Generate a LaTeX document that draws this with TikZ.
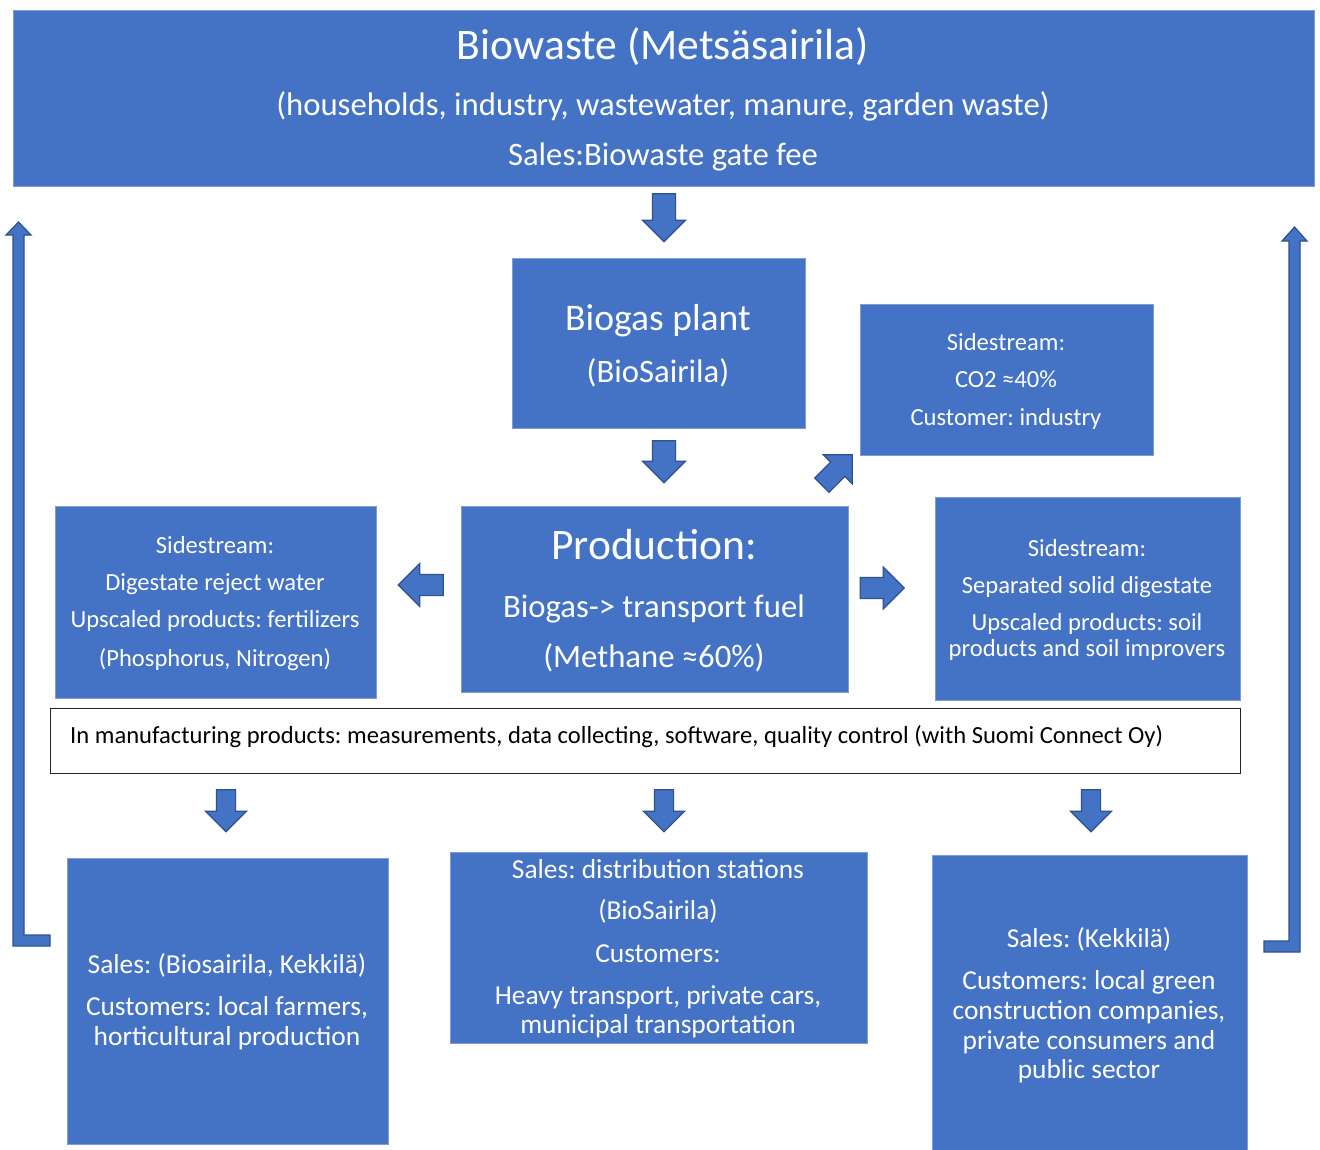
\documentclass[tikz,border=0pt]{standalone}
\usepackage{fontspec}
\setmainfont{Carlito}
\frenchspacing
\usetikzlibrary{shapes.arrows}
\definecolor{obl}{HTML}{4472C4}
\definecolor{odk}{HTML}{2F528F}
\definecolor{oed}{HTML}{7F9CD6}
\tikzset{
  box/.style={rectangle, fill=obl, draw=oed, line width=0.8pt, inner sep=0pt, anchor=north west},
  wbox/.style={rectangle, fill=white, draw=black!85, line width=1.3pt, inner sep=0pt, anchor=north west},
  txt/.style={text=white, anchor=base, inner sep=0pt},
  btxt/.style={text=black, anchor=base west, inner sep=0pt},
  barrow/.style={single arrow, fill=obl, draw=odk, line width=1.2pt, inner xsep=0pt, single arrow head indent=0pt},
  retarrow/.style={fill=obl, draw=odk, line width=1.2pt, line join=miter},
  fA/.style={font=\fontsize{43.6}{48}\selectfont},
  fB/.style={font=\fontsize{32.7}{38}\selectfont},
  fP/.style={font=\fontsize{43.5}{48}\selectfont},
  fG/.style={font=\fontsize{37.6}{44}\selectfont},
  fS/.style={font=\fontsize{24.6}{29}\selectfont},
  fM/.style={font=\fontsize{24.6}{29}\selectfont},
  fC/.style={font=\fontsize{27.4}{32}\selectfont},
}
\begin{document}
\begin{tikzpicture}[x=1pt, y=-1pt]
\useasboundingbox[fill=white] (0,0) rectangle (1320,1149);

% top box
\node[box, minimum width=1301pt, minimum height=176pt] (top) at (13,10) {};
\node[txt, fA] (t1) at (663,59) {Biowaste (Metsäsairila)};
\node[txt, fB] (t2) at (663,115) {(households, industry, wastewater, manure, garden waste)};
\node[txt, fB] (t3) at (663,165) {Sales:Biowaste gate fee};

% biogas plant
\node[box, minimum width=293pt, minimum height=170pt] (plant) at (512,258) {};
\node[txt, fG] (p1) at (658,330) {Biogas plant};
\node[txt, fB] (p2) at (658,382) {(BioSairila)};

% CO2 sidestream
\node[box, minimum width=293pt, minimum height=151pt] (co2) at (860,304) {};
\node[txt, fS] (c1) at (1006,350) {Sidestream:};
\node[txt, fS] (c2) at (1006,387) {CO2 ≈40\%};
\node[txt, fS] (c3) at (1006,425) {Customer: industry};

% production
\node[box, minimum width=387pt, minimum height=186pt] (prod) at (461,506) {};
\node[txt, fP] (r1) at (654,559) {Production:};
\node[txt, fB] (r2) at (654,617) {Biogas-> transport fuel};
\node[txt, fB] (r3) at (654,667) {(Methane ≈60\%)};

% left sidestream
\node[box, minimum width=321pt, minimum height=192pt] (lside) at (55,506) {};
\node[txt, fS] (l1) at (215,553) {Sidestream:};
\node[txt, fS] (l2) at (215,590) {Digestate reject water};
\node[txt, fS] (l3) at (215,627) {Upscaled products: fertilizers};
\node[txt, fS] (l4) at (215,666) {(Phosphorus, Nitrogen)};

% right sidestream
\node[box, minimum width=305pt, minimum height=203pt] (rside) at (935,497) {};
\node[txt, fS] (s1) at (1087,556) {Sidestream:};
\node[txt, fS] (s2) at (1087,593) {Separated solid digestate};
\node[txt, fS] (s3) at (1087,630) {Upscaled products: soil};
\node[txt, fS] (s4) at (1087,656) {products and soil improvers};

% manufacturing
\node[wbox, minimum width=1190pt, minimum height=65pt] (manu) at (50,708) {};
\node[btxt, fM] (m1) at (70,743) {In manufacturing products: measurements, data collecting, software, quality control (with Suomi Connect Oy)};

% bottom left
\node[box, minimum width=321pt, minimum height=286pt] (bl) at (67,858) {};
\node[txt, fC] (b1) at (227,973) {Sales: (Biosairila, Kekkilä)};
\node[txt, fC] (b2) at (227,1015) {Customers: local farmers,};
\node[txt, fC] (b3) at (227,1045) {horticultural production};

% bottom middle
\node[box, minimum width=417pt, minimum height=191pt] (bm) at (450,852) {};
\node[txt, fC] (d1) at (658,878) {Sales: distribution stations};
\node[txt, fC] (d2) at (658,919) {(BioSairila)};
\node[txt, fC] (d3) at (658,962) {Customers:};
\node[txt, fC] (d4) at (658,1004) {Heavy transport, private cars,};
\node[txt, fC] (d5) at (658,1033) {municipal transportation};

% bottom right
\node[box, minimum width=315pt, minimum height=300pt] (br) at (932,855) {};
\node[txt, fC] (e1) at (1089,947) {Sales: (Kekkilä)};
\node[txt, fC] (e2) at (1089,989) {Customers: local green};
\node[txt, fC] (e3) at (1089,1019) {construction companies,};
\node[txt, fC] (e4) at (1089,1049) {private consumers and};
\node[txt, fC] (e5) at (1089,1078) {public sector};

% block arrows
\node[barrow, rotate=-90, minimum height=48pt, minimum width=42pt, inner ysep=11pt, single arrow head extend=10pt] (a1) at (664,212) {};
\node[barrow, rotate=-90, minimum height=42pt, minimum width=42pt, inner ysep=11pt, single arrow head extend=10pt] (a2) at (664,456) {};
\node[barrow, rotate=45, minimum height=43pt, minimum width=40pt, inner ysep=9.5pt, single arrow head extend=10.5pt] (a3) at (833.5,473.5) {};
\node[barrow, rotate=180, minimum height=45pt, minimum width=42pt, inner ysep=10pt, single arrow head extend=11pt] (a4) at (426,585) {};
\node[barrow, minimum height=44pt, minimum width=41pt, inner ysep=10pt, single arrow head extend=10.5pt] (a5) at (877,588) {};
\node[barrow, rotate=-90, minimum height=42pt, minimum width=40pt, inner ysep=9pt, single arrow head extend=11pt] (a6) at (226,806) {};
\node[barrow, rotate=-90, minimum height=42pt, minimum width=40pt, inner ysep=9pt, single arrow head extend=11pt] (a7) at (664,806) {};
\node[barrow, rotate=-90, minimum height=42pt, minimum width=40pt, inner ysep=9pt, single arrow head extend=11pt] (a8) at (1091,806) {};

% return arrows
\draw[retarrow] (13,946) -- (50,946) -- (50,935) -- (24,935) -- (24,235) -- (31,235) -- (18.5,222) -- (6,235) -- (13,235) -- cycle;
\draw[retarrow] (1300,952) -- (1264,952) -- (1264,941) -- (1289,941) -- (1289,241) -- (1282,241) -- (1294.5,227) -- (1307,241) -- (1300,241) -- cycle;
\end{tikzpicture}
\end{document}
